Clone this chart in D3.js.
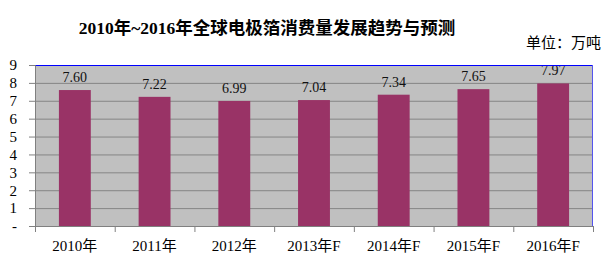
<!DOCTYPE html>
<meta charset="utf-8">
<style>
body { margin: 0; background: #fff; }
text { font-family: "Liberation Serif", "Noto Sans CJK SC", serif; }
</style>
<body>
<script src="https://d3js.org/d3.v7.min.js"></script>
<script>
// chart data
var years = ["2010年", "2011年", "2012年", "2013年F", "2014年F", "2015年F", "2016年F"];
var values = [7.60, 7.22, 6.99, 7.04, 7.34, 7.65, 7.97];
var yTicks = [0, 1, 2, 3, 4, 5, 6, 7, 8, 9];

var W = 610, H = 260;
var margin = {top: 65, right: 17, bottom: 34, left: 35};
var width = W - margin.left - margin.right;
var height = H - margin.top - margin.bottom;

var svg = d3.select("body").append("svg")
    .attr("width", W)
    .attr("height", H);

var x = d3.scaleBand().domain(years).range([0, width]).paddingInner(0.6).paddingOuter(0.3);
var xb = d3.scaleBand().domain(years).range([0, width]);
var y = d3.scaleLinear().domain([0, 9]).range([height, 0]);

var g = svg.append("g")
    .attr("transform", "translate(" + margin.left + "," + margin.top + ")");

// plot background
g.append("rect")
    .attr("width", width)
    .attr("height", height)
    .attr("fill", "#c0c0c0");

// gridlines
g.selectAll(".grid")
  .data(yTicks.slice(1, -1))
  .enter().append("line")
    .attr("x1", 0).attr("x2", width)
    .attr("y1", function(d) { return y(d) + 0.5; })
    .attr("y2", function(d) { return y(d) + 0.5; })
    .attr("stroke", "#858585");

// bars
g.selectAll(".bar")
  .data(values)
  .enter().append("rect")
    .attr("x", function(d, i) { return x(years[i]); })
    .attr("width", x.bandwidth())
    .attr("y", function(d) { return y(d); })
    .attr("height", function(d) { return height - y(d); })
    .attr("fill", "#993366");

// value labels
g.selectAll(".val")
  .data(values)
  .enter().append("text")
    .attr("x", function(d, i) { return x(years[i]) + x.bandwidth() / 2; })
    .attr("y", function(d) { return y(d) - 8; })
    .attr("text-anchor", "middle")
    .attr("font-size", "14px")
    .attr("fill", "#111")
    .text(function(d) { return d.toFixed(2); });

// plot border: blue top and right
g.append("line").attr("x1", 0).attr("x2", width).attr("y1", 0.5).attr("y2", 0.5)
    .attr("stroke", "#0000ff").attr("stroke-width", 1.2);
g.append("line").attr("x1", width - 0.5).attr("x2", width - 0.5).attr("y1", 0).attr("y2", height)
    .attr("stroke", "#5555ee");

// y axis
var yAxis = d3.axisLeft(y)
    .tickValues(yTicks)
    .tickSize(6)
    .tickPadding(12)
    .tickFormat(function(d) { return d === 0 ? "-" : d; });
var ya = g.append("g").call(yAxis);
ya.select(".domain").attr("stroke", "#808080");
ya.selectAll(".tick line").attr("stroke", "#808080");
ya.selectAll("text").attr("font-size", "15px").attr("fill", "#000");

// x axis
var xAxis = d3.axisBottom(xb).tickSize(0).tickPadding(14);
var xa = g.append("g").attr("transform", "translate(0," + height + ")").call(xAxis);
xa.select(".domain").attr("stroke", "#808080");
xa.selectAll("text").attr("font-size", "15px").attr("fill", "#000");
xa.selectAll(".sep")
  .data(years.concat([null]))
  .enter().append("line")
    .attr("x1", function(d, i) { return i * xb.step() + 0.5; })
    .attr("x2", function(d, i) { return i * xb.step() + 0.5; })
    .attr("y1", 0).attr("y2", 6)
    .attr("stroke", "#808080");

// title
svg.append("text")
    .attr("x", 267)
    .attr("y", 34)
    .attr("text-anchor", "middle")
    .attr("font-size", "17.5px")
    .attr("font-weight", "bold")
    .text("2010年~2016年全球电极箔消费量发展趋势与预测");

svg.append("text")
    .attr("x", 601)
    .attr("y", 48)
    .attr("text-anchor", "end")
    .attr("font-size", "15px")
    .text("单位：万吨");
</script>
